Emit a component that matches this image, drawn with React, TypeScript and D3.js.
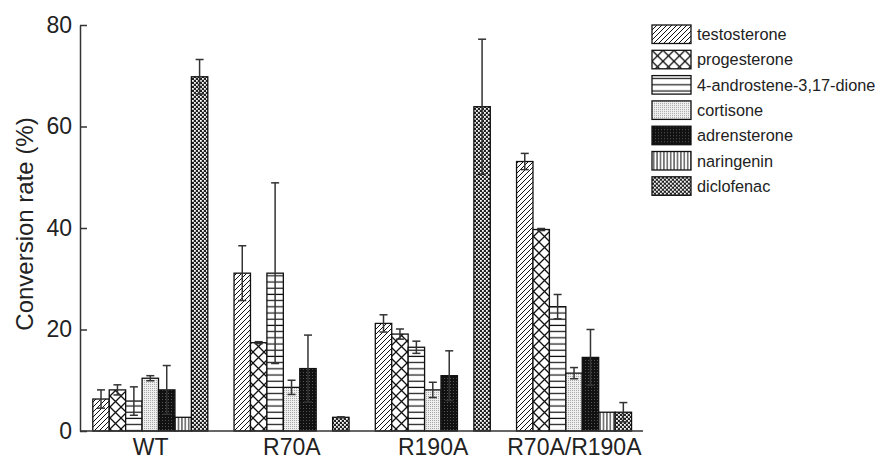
import React, { useEffect, useRef } from 'react';
import * as d3 from 'd3';

const groups = ['WT', 'R70A', 'R190A', 'R70A/R190A'];
const compounds = ['testosterone', 'progesterone', '4-androstene-3,17-dione', 'cortisone', 'adrensterone', 'naringenin', 'diclofenac'];

// mean conversion per compound, one entry per group
const testosterone = [6.3, 31.1, 21.2, 53.1];
const progesterone = [8.1, 17.4, 19.1, 39.7];
const androstenedione = [5.9, 31.1, 16.5, 24.5];
const cortisone = [10.4, 8.6, 8.1, 11.4];
const adrensterone = [8.1, 12.3, 10.9, 14.5];
const naringenin = [2.7, 0, 0, 3.7];
const diclofenac = [69.8, 2.7, 63.9, 3.7];

// error (sd)
const testosteroneErr = [1.8, 5.4, 1.7, 1.6];
const progesteroneErr = [1.0, 0.2, 1.0, 0.2];
const androstenedioneErr = [2.8, 17.8, 1.2, 2.4];
const cortisoneErr = [0.5, 1.4, 1.5, 1.1];
const adrensteroneErr = [4.8, 6.6, 4.9, 5.5];
const naringeninErr = [0, 0, 0, 0];
const diclofenacErr = [3.4, 0.1, 13.3, 1.9];

const yTicks = [0, 20, 40, 60, 80];

const values = [testosterone, progesterone, androstenedione, cortisone, adrensterone, naringenin, diclofenac];
const errors = [testosteroneErr, progesteroneErr, androstenedioneErr, cortisoneErr, adrensteroneErr, naringeninErr, diclofenacErr];
const patternIds = ['p-diag', 'p-cross', 'p-horiz', 'p-dots', 'p-dark', 'p-vert', 'p-check'];

const W = 880;
const H = 461;
const font = 'Liberation Sans, Arial, Helvetica, sans-serif';

export default function App() {
  const yAxisRef = useRef<SVGGElement>(null);

  const x0 = d3.scaleBand().domain(groups).range([80, 645]).padding(0);
  const x1 = d3.scaleBand().domain(compounds).range([12.8, 127.8]).padding(0);
  const y = d3.scaleLinear().domain([0, 80]).range([431, 25]);

  useEffect(() => {
    const g = d3.select(yAxisRef.current);
    g.selectAll('*').remove();
    g.call(d3.axisLeft(y).tickValues(yTicks).tickSizeInner(-7).tickSizeOuter(0).tickPadding(8));
    g.select('.domain').attr('stroke', '#333').attr('stroke-width', 1.5);
    g.selectAll('.tick line').attr('stroke', '#333').attr('stroke-width', 1.5);
    g.selectAll('.tick text')
      .attr('font-family', font)
      .attr('font-size', 23)
      .attr('fill', '#222');
  }, []);

  const rows = compounds.map((c, si) =>
    groups.map((gname, gi) => ({ c, si, gname, v: values[si][gi], e: errors[si][gi] }))
  );

  return (
    <svg width={W} height={H} style={{ position: 'absolute', left: 0, top: 0, background: '#fff' }}>
      <defs>
        <pattern id="p-diag" patternUnits="userSpaceOnUse" width="5" height="5">
          <rect width="5" height="5" fill="#fff" />
          <path d="M-1,1 L1,-1 M0,5 L5,0 M4,6 L6,4" stroke="#111" strokeWidth="1" />
        </pattern>
        <pattern id="p-cross" patternUnits="userSpaceOnUse" width="11" height="11">
          <rect width="11" height="11" fill="#fff" />
          <path d="M0,0 L11,11 M11,0 L0,11" stroke="#111" strokeWidth="1.3" />
        </pattern>
        <pattern id="p-horiz" patternUnits="userSpaceOnUse" width="6" height="6.2">
          <rect width="6" height="6.2" fill="#fff" />
          <path d="M0,3 L6,3" stroke="#111" strokeWidth="1.2" />
        </pattern>
        <pattern id="p-dots" patternUnits="userSpaceOnUse" width="2" height="2">
          <rect width="2" height="2" fill="#efefef" />
          <rect width="1" height="1" fill="#a8a8a8" />
        </pattern>
        <pattern id="p-dark" patternUnits="userSpaceOnUse" width="3" height="3">
          <rect width="3" height="3" fill="#111" />
          <rect width="1" height="1" fill="#555" />
        </pattern>
        <pattern id="p-vert" patternUnits="userSpaceOnUse" width="3.4" height="4">
          <rect width="3.4" height="4" fill="#fff" />
          <path d="M1.7,0 L1.7,4" stroke="#111" strokeWidth="1" />
        </pattern>
        <pattern id="p-check" patternUnits="userSpaceOnUse" width="4" height="4">
          <rect width="4" height="4" fill="#222" />
          <rect x="0" y="0" width="1.8" height="1.8" fill="#fff" />
          <rect x="2" y="2" width="1.8" height="1.8" fill="#fff" />
        </pattern>
      </defs>

      {/* bars */}
      {rows.map((row) =>
        row.map((d) =>
          d.v > 0 ? (
            <rect
              key={d.c + d.gname}
              x={(x0(d.gname) ?? 0) + (x1(d.c) ?? 0)}
              y={y(d.v)}
              width={x1.bandwidth()}
              height={y(0) - y(d.v)}
              fill={`url(#${patternIds[d.si]})`}
              stroke="#111"
              strokeWidth={1.3}
            />
          ) : null
        )
      )}

      {/* error bars */}
      {rows.map((row) =>
        row.map((d) => {
          if (d.e <= 0 || d.v <= 0) return null;
          const cx = (x0(d.gname) ?? 0) + (x1(d.c) ?? 0) + x1.bandwidth() / 2;
          const hi = y(d.v + d.e);
          const lo = y(Math.max(0, d.v - d.e));
          return (
            <g key={'e' + d.c + d.gname} stroke="#333" strokeWidth={1.5}>
              <line x1={cx} x2={cx} y1={hi} y2={lo} />
              <line x1={cx - 4} x2={cx + 4} y1={hi} y2={hi} />
              <line x1={cx - 4} x2={cx + 4} y1={lo} y2={lo} />
            </g>
          );
        })
      )}

      {/* x axis */}
      <line x1={80} x2={643} y1={y(0)} y2={y(0)} stroke="#333" strokeWidth={1.5} />
      {groups.map((gname) => (
        <text
          key={gname}
          x={(x0(gname) ?? 0) + x0.bandwidth() / 2}
          y={455}
          textAnchor="middle"
          fontFamily={font}
          fontSize={23}
          fill="#222"
        >
          {gname}
        </text>
      ))}

      <g ref={yAxisRef} transform="translate(80,0)" />

      <text
        transform="translate(33,224) rotate(-90)"
        textAnchor="middle"
        fontFamily={font}
        fontSize={24}
        fill="#222"
      >
        Conversion rate (%)
      </text>

      {/* legend */}
      {compounds.map((c, i) => (
        <g key={c} transform={`translate(652,${25 + i * 25.3})`}>
          <rect width={39} height={18.5} fill={`url(#${patternIds[i]})`} stroke="#111" strokeWidth={1.3} />
          <text x={45} y={15.2} fontFamily={font} fontSize={16.3} fill="#222">
            {c}
          </text>
        </g>
      ))}
    </svg>
  );
}
